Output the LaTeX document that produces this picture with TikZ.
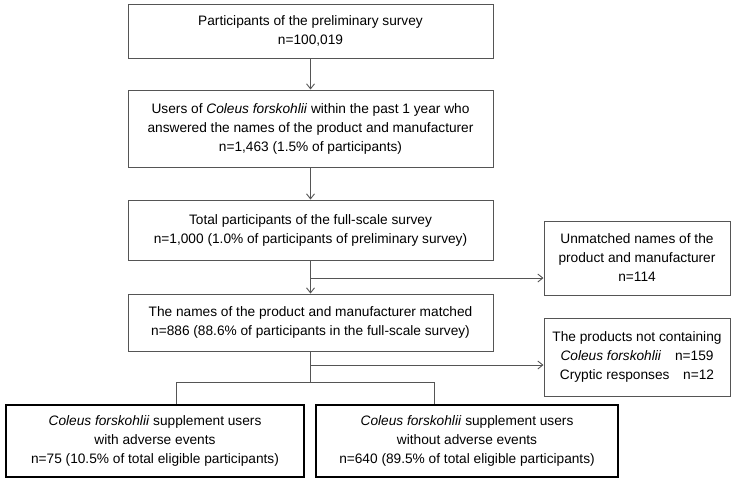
\documentclass[tikz,border=0pt]{standalone}
\usepackage{fontspec}
\setmainfont{Liberation Sans}
\usepackage{tikz}
\usetikzlibrary{arrows.meta}
\definecolor{linegray}{HTML}{555555}
\tikzstyle{stage}=[rectangle, draw=linegray, line width=1pt, align=center, minimum width=365pt, inner sep=0pt, font=\fontsize{13.7}{19}\selectfont]
\tikzstyle{excluded}=[rectangle, draw=linegray, line width=1pt, align=center, minimum width=186pt, inner sep=0pt, font=\fontsize{13.7}{19}\selectfont]
\tikzstyle{group}=[rectangle, draw=black, line width=2.3pt, align=center, inner sep=0pt, font=\fontsize{13.7}{19}\selectfont]
\tikzstyle{link}=[draw=linegray, line width=0.9pt]
\tikzstyle{flow}=[link, -{Straight Barb[length=5pt, width=8pt]}]

\begin{document}
\begin{tikzpicture}[x=1pt, y=-1pt]
                    \useasboundingbox (0, 0) rectangle (735, 483);
                    \node[stage, minimum height=54pt] (pre) at (310.5, 31) {Participants of the preliminary survey\\n=100,019};
                    \node[stage, minimum height=77pt] (users) at (310.5, 128.5) {Users of \textit{Coleus forskohlii} within the past 1 year who\\answered the names of the product and manufacturer\\n=1,463 (1.5\% of participants)};
                    \node[stage, minimum height=60pt] (full) at (310.5, 230) {Total participants of the full-scale survey\\n=1,000 (1.0\% of participants of preliminary survey)};
                    \node[stage, minimum height=57pt] (match) at (310.5, 322.5) {The names of the product and manufacturer matched\\n=886 (88.6\% of participants in the full-scale survey)};
                    \node[excluded, minimum height=74pt] (unmatch) at (637, 258) {Unmatched names of the\\product and manufacturer\\n=114};
                    \node[excluded, minimum height=78pt] (noprod) at (637, 357) {The products not containing\\\textit{Coleus forskohlii}\quad n=159\\Cryptic responses\quad n=12};
                    \node[group, minimum width=298pt, minimum height=72pt] (ae) at (155, 441) {\textit{Coleus forskohlii} supplement users\\with adverse events\\n=75 (10.5\% of total eligible participants)};
                    \node[group, minimum width=302pt, minimum height=72pt] (noae) at (467, 441) {\textit{Coleus forskohlii} supplement users\\without adverse events\\n=640 (89.5\% of total eligible participants)};
                    \coordinate (b1) at (310.5, 278);
                    \coordinate (b2) at (310.5, 365);
                    \coordinate (jm) at (310.5, 382);
                    \coordinate (jl) at (176, 382);
                    \coordinate (jr) at (434, 382);
                    \draw[flow] (pre) -- (users);
                    \draw[flow] (users) -- (full);
                    \draw[flow] (full) -- (match);
                    \draw[flow] (b1) -- (b1 -| unmatch.west);
                    \draw[link] (match) -- (jm);
                    \draw[flow] (b2) -- (b2 -| noprod.west);
                    \draw[link] (jl |- ae.north) -- (jl) -- (jr) -- (jr |- noae.north);
                \end{tikzpicture}
\end{document}
